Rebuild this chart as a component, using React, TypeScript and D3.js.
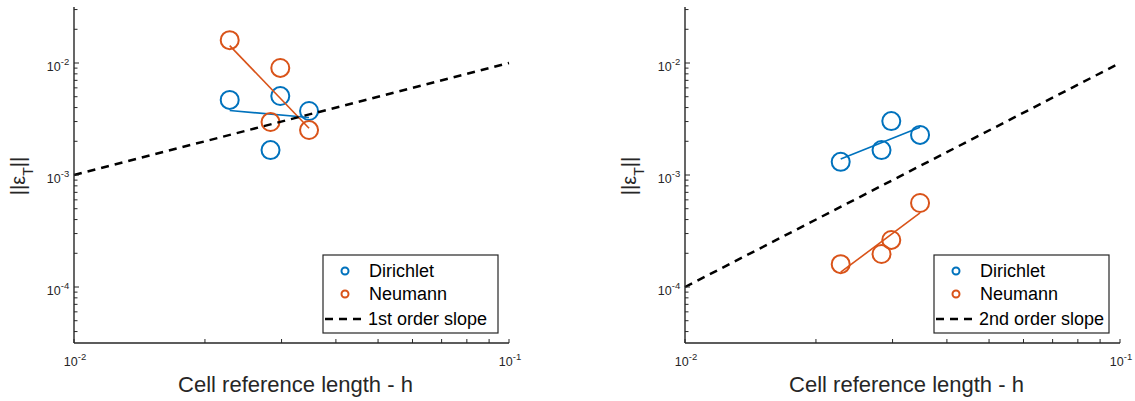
import React from "react";
import * as d3 from "d3";

// Cell reference length h for the four meshes
const cellLength = [0.0228, 0.0283, 0.0298, 0.0347];

// Temperature error norms, left panel
const dirichletLeft = [4.68e-3, 1.67e-3, 5.07e-3, 3.73e-3];
const neumannLeft = [1.6e-2, 2.97e-3, 9.03e-3, 2.52e-3];

// Temperature error norms, right panel
const dirichletRight = [1.31e-3, 1.67e-3, 3.03e-3, 2.28e-3];
const neumannRight = [1.6e-4, 1.97e-4, 2.63e-4, 5.62e-4];

// Reference slope lines: [h, error] endpoints
const slopeLeft = [
  [0.01, 1e-3],
  [0.1, 1e-2],
];
const slopeRight = [
  [0.01, 1e-4],
  [0.1, 1e-2],
];

const seriesNames = ["Dirichlet", "Neumann"];
const slopeNames = ["1st order slope", "2nd order slope"];
const xTickExps = [-2, -1];
const yTickExps = [-2, -3, -4];

const BLUE = "#0072BD";
const ORANGE = "#D95319";
const AXIS = "#262626";
const FONT = "'Liberation Sans', Arial, Helvetica, sans-serif";

// Least-squares line in log-log space, evaluated at the smallest and largest h
function logFit(xs: number[], ys: number[]): [number, number][] {
  const lx = xs.map(Math.log10);
  const ly = ys.map(Math.log10);
  const mx = d3.mean(lx)!;
  const my = d3.mean(ly)!;
  let sxy = 0;
  let sxx = 0;
  lx.forEach((v, i) => {
    sxy += (v - mx) * (ly[i] - my);
    sxx += (v - mx) * (v - mx);
  });
  const k = sxy / sxx;
  const x0 = d3.min(lx)!;
  const x1 = d3.max(lx)!;
  return [
    [Math.pow(10, x0), Math.pow(10, my + k * (x0 - mx))],
    [Math.pow(10, x1), Math.pow(10, my + k * (x1 - mx))],
  ];
}

function Pow10({ exp, x, y, anchor }: { exp: number; x: number; y: number; anchor: string }) {
  return (
    <text x={x} y={y} textAnchor={anchor} fontSize={12.5} fill={AXIS} fontFamily={FONT}>
      10
      <tspan dy={-6} fontSize={9.5}>
        {exp}
      </tspan>
    </text>
  );
}

interface PanelProps {
  left: number;
  right: number;
  dirichlet: number[];
  neumann: number[];
  slope: number[][];
  slopeName: string;
  yLabelX: number;
}

function Panel({ left, right, dirichlet, neumann, slope, slopeName, yLabelX }: PanelProps) {
  const top = 7;
  const bottom = 343;
  const x = d3.scaleLog().domain([0.01, 0.1]).range([left, right]);
  const y = d3
    .scaleLog()
    .domain([Math.pow(10, -4.5), Math.pow(10, -1.5)])
    .range([bottom, top]);
  const line = d3
    .line<number[]>()
    .x((d) => x(d[0]))
    .y((d) => y(d[1]));

  const yMinor: number[] = [];
  for (let e = -5; e <= -2; e++) {
    for (let m = 1; m <= 9; m++) {
      const v = m * Math.pow(10, e);
      if (v >= y.domain()[0] && v <= y.domain()[1]) yMinor.push(v);
    }
  }
  const xMinor: number[] = [];
  for (let m = 1; m <= 10; m++) xMinor.push(m * 0.01);

  const series = [
    { data: dirichlet, color: BLUE },
    { data: neumann, color: ORANGE },
  ];

  // Legend box
  const lgW = 175;
  const lgH = 78;
  const lgX = right - 186;
  const lgY = 255;

  return (
    <g>
      {/* data */}
      {series.map((s, si) => (
        <g key={si}>
          {s.data.map((v, i) => (
            <circle
              key={i}
              cx={x(cellLength[i])}
              cy={y(v)}
              r={9}
              fill="none"
              stroke={s.color}
              strokeWidth={2}
            />
          ))}
          <path d={line(logFit(cellLength, s.data))!} fill="none" stroke={s.color} strokeWidth={1.6} />
        </g>
      ))}
      <path d={line(slope)!} fill="none" stroke="#000" strokeWidth={2.5} strokeDasharray="8,6" />

      {/* axes */}
      <line x1={left} x2={left} y1={top} y2={bottom} stroke={AXIS} strokeWidth={1.4} />
      <line x1={left} x2={right} y1={bottom} y2={bottom} stroke={AXIS} strokeWidth={1.4} />
      {yMinor.map((v, i) => {
        const major = Math.abs(Math.log10(v) - Math.round(Math.log10(v))) < 1e-9;
        return (
          <line
            key={i}
            x1={left}
            x2={left + (major ? 5 : 3.5)}
            y1={y(v)}
            y2={y(v)}
            stroke={AXIS}
            strokeWidth={1}
          />
        );
      })}
      {xMinor.map((v, i) => (
        <line key={i} x1={x(v)} x2={x(v)} y1={bottom} y2={bottom - 4} stroke={AXIS} strokeWidth={1} />
      ))}
      {yTickExps.map((e) => (
        <Pow10 key={e} exp={e} x={left - 16} y={y(Math.pow(10, e)) + 8} anchor="middle" />
      ))}
      {xTickExps.map((e) => (
        <Pow10 key={e} exp={e} x={x(Math.pow(10, e)) + 1} y={366} anchor="middle" />
      ))}

      {/* axis titles */}
      <text
        x={(left + right) / 2 + 4}
        y={392}
        textAnchor="middle"
        fontSize={22}
        fill={AXIS}
        fontFamily={FONT}
      >
        Cell reference length - h
      </text>
      <text
        transform={`translate(${yLabelX},176) rotate(-90)`}
        textAnchor="middle"
        fontSize={20}
        fill={AXIS}
        fontFamily={FONT}
      >
        ||ε
        <tspan dy={8} fontSize={14}>
          T
        </tspan>
        <tspan dy={-8}>||</tspan>
      </text>

      {/* legend */}
      <rect x={lgX} y={lgY} width={lgW} height={lgH} fill="#fff" stroke={AXIS} strokeWidth={1.2} />
      {seriesNames.map((name, i) => (
        <g key={name}>
          <circle
            cx={lgX + 22}
            cy={lgY + 16 + i * 23}
            r={3.5}
            fill="none"
            stroke={i === 0 ? BLUE : ORANGE}
            strokeWidth={2}
          />
          <text x={lgX + 46} y={lgY + 22 + i * 23} fontSize={18} fill="#000" fontFamily={FONT}>
            {name}
          </text>
        </g>
      ))}
      <line
        x1={lgX + 2}
        x2={lgX + 43}
        y1={lgY + 64}
        y2={lgY + 64}
        stroke="#000"
        strokeWidth={2.5}
        strokeDasharray="8,6"
      />
      <text x={lgX + 45} y={lgY + 70} fontSize={18} fill="#000" fontFamily={FONT}>
        {slopeName}
      </text>
    </g>
  );
}

export default function App() {
  return (
    <svg
      width={1135}
      height={401}
      style={{ position: "absolute", left: 0, top: 0, background: "#fff" }}
    >
      <Panel
        left={74}
        right={509}
        dirichlet={dirichletLeft}
        neumann={neumannLeft}
        slope={slopeLeft}
        slopeName={slopeNames[0]}
        yLabelX={25}
      />
      <Panel
        left={685}
        right={1120}
        dirichlet={dirichletRight}
        neumann={neumannRight}
        slope={slopeRight}
        slopeName={slopeNames[1]}
        yLabelX={636}
      />
    </svg>
  );
}
